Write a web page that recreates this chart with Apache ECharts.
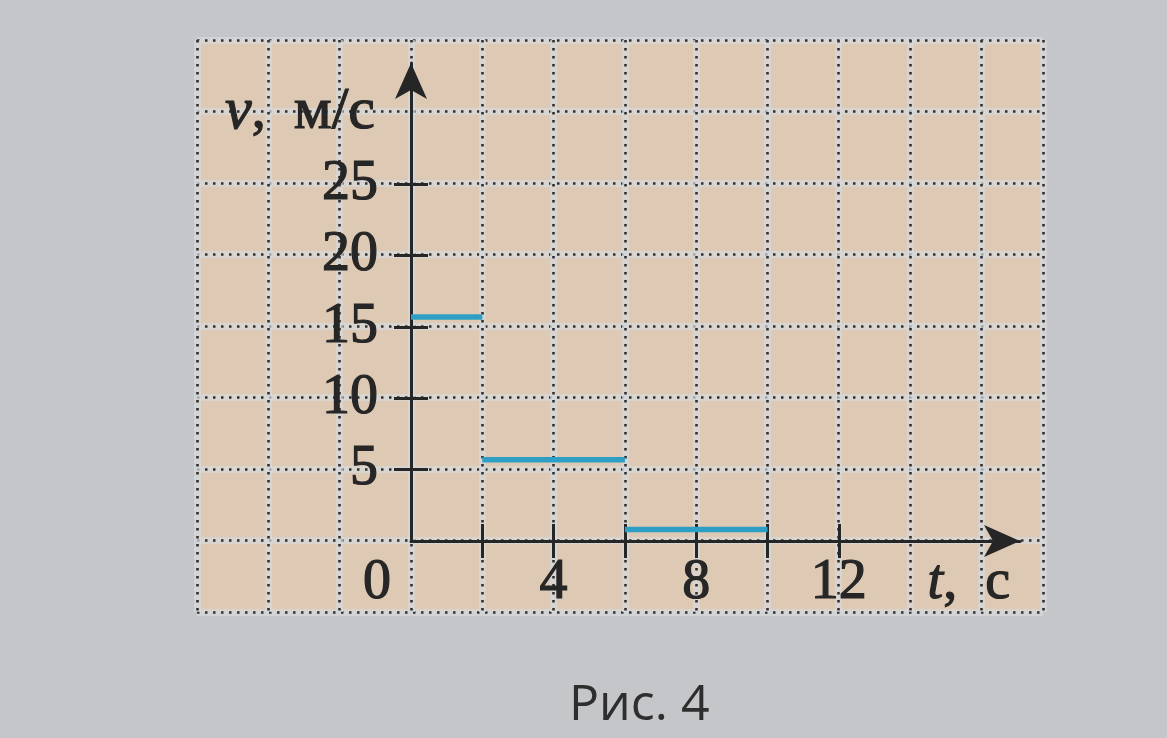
<!DOCTYPE html>
<html>
<head>
<meta charset="utf-8">
<script src="https://cdn.jsdelivr.net/npm/echarts@6/dist/echarts.min.js"></script>
<style>
html,body{margin:0;padding:0;background:#c5c6c9;}
#chart{width:1167px;height:738px;}
</style>
</head>
<body>
<div id="chart"></div>
<script>
// ---- data ----
const segStart = [0, 2, 6];          // t, s
const segEnd   = [2, 6, 10];         // t, s
const segV     = [15.7, 5.7, 0.8];   // v, m/s
const xTickValues  = [2, 4, 6, 8, 10, 12];
const xLabelValues = [0, 4, 8, 12];
const xLabelTexts  = ['0', '4', '8', '12'];
const yTickValues  = [5, 10, 15, 20, 25];
const yLabelValues = [5, 10, 15, 20, 25];
const yLabelTexts  = ['5', '10', '15', '20', '25'];
const xName = 't';
const xUnit = 'с';
const yName = 'v';
const yUnit = 'м/с';
const caption = 'Рис. 4';

// ---- style ----
const INK = '#262626';
const SERIF = '"Liberation Serif", "DejaVu Serif", serif';
const FS = 56;
const heavy = {textBorderColor: INK, textBorderWidth: 1.2};
const bandLine = {show: true, lineStyle: {color: 'rgba(214,216,220,0.7)', width: 7, type: 'solid'}};
const dotLine = {show: true, lineStyle: {color: '#332f2c', width: 2.6, type: [2.5, 5.5]}};
const hidden = {axisLine: {show: false, onZero: false}, axisTick: {show: false}, axisLabel: {show: false}};

const chart = echarts.init(document.getElementById('chart'), null, {renderer: 'canvas'});

const series = segV.map((v, i) => ({
  type: 'line',
  xAxisIndex: 2,
  yAxisIndex: 2,
  data: [[segStart[i], v], [segEnd[i], v]],
  showSymbol: false,
  symbol: 'none',
  lineStyle: {color: '#2e9fc4', width: 5.5, cap: 'butt'},
  z: 5,
  silent: true
}));

chart.setOption({
  backgroundColor: '#c5c6c9',
  animation: false,
  title: {
    text: caption,
    left: 564,
    top: 676,
    textStyle: {fontFamily: '"Open Sans", sans-serif', fontSize: 50, fontWeight: 'normal', color: '#2e2e2e'}
  },
  grid: [
    {left: 197, right: 124, top: 40, bottom: 126, show: true, backgroundColor: '#dec9b5', borderWidth: 0},
    {left: 411, right: 147, top: 63, bottom: 197, show: false}
  ],
  xAxis: [
    Object.assign({type: 'value', gridIndex: 0, min: -6, max: 17.73, interval: 2, position: 'bottom', splitLine: bandLine}, hidden),
    Object.assign({type: 'value', gridIndex: 0, min: -6, max: 17.73, interval: 2, position: 'top', splitLine: dotLine}, hidden),
    {
      type: 'value', gridIndex: 1, min: 0, max: 17.08, position: 'bottom',
      splitLine: {show: false},
      axisLine: {show: true, onZero: false, symbol: ['none', 'arrow'], symbolSize: [24, 36],
        lineStyle: {color: INK, width: 3}},
      axisTick: {show: true, customValues: xTickValues, length: 17, inside: false,
        lineStyle: {color: INK, width: 3}},
      axisLabel: Object.assign({
        show: true, customValues: xLabelValues, margin: 42, verticalAlign: 'middle',
        fontFamily: SERIF, fontSize: FS, color: INK,
        formatter: (val) => {
          const i = xLabelValues.indexOf(val);
          const s = i >= 0 ? xLabelTexts[i] : '';
          return val === 0 ? '{o|' + s + '}' : s;
        },
        rich: {o: Object.assign({fontFamily: SERIF, fontSize: FS, color: INK, padding: [0, 68, 0, 0]}, heavy)}
      }, heavy),
      name: '{i|' + xName + '},  ' + xUnit,
      nameLocation: 'end',
      nameGap: -10,
      nameTextStyle: Object.assign({
        fontFamily: SERIF, fontSize: FS, color: INK, align: 'right', verticalAlign: 'middle',
        padding: [84, 0, 0, 0],
        rich: {i: Object.assign({fontFamily: SERIF, fontSize: FS, fontStyle: 'italic', color: INK}, heavy)}
      }, heavy)
    },
    {
      type: 'value', gridIndex: 1, min: 0, max: 17.08, position: 'top',
      splitLine: {show: false},
      axisLine: {show: true, onZero: true, lineStyle: {opacity: 0, width: 0}},
      axisLabel: {show: false},
      axisTick: {show: true, customValues: xTickValues, length: 17, inside: false,
        lineStyle: {color: INK, width: 3}}
    }
  ],
  yAxis: [
    Object.assign({type: 'value', gridIndex: 0, min: -5, max: 35, interval: 5, position: 'left', splitLine: bandLine}, hidden),
    Object.assign({type: 'value', gridIndex: 0, min: -5, max: 35, interval: 5, position: 'right', splitLine: dotLine}, hidden),
    {
      type: 'value', gridIndex: 1, min: 0, max: 33.5, position: 'left',
      splitLine: {show: false},
      axisLine: {show: true, onZero: false, symbol: ['none', 'arrow'], symbolSize: [24, 36],
        lineStyle: {color: INK, width: 3}},
      axisTick: {show: true, customValues: yTickValues, length: 17, inside: false,
        lineStyle: {color: INK, width: 3}},
      axisLabel: Object.assign({
        show: true, customValues: yLabelValues, margin: 33,
        fontFamily: SERIF, fontSize: FS, color: INK,
        formatter: (val) => {
          const i = yLabelValues.indexOf(val);
          return i >= 0 ? yLabelTexts[i] : '';
        }
      }, heavy),
      name: '{i|' + yName + '},  {u|' + yUnit + '}',
      nameLocation: 'end',
      nameGap: -49,
      nameTextStyle: Object.assign({
        fontFamily: SERIF, fontSize: 56, color: INK, align: 'right', verticalAlign: 'middle',
        padding: [0, 36, 0, 0],
        rich: {
          i: Object.assign({fontFamily: SERIF, fontSize: 60, fontStyle: 'italic', color: INK}, heavy),
          u: Object.assign({fontFamily: SERIF, fontSize: 60, color: INK}, heavy)
        }
      }, heavy)
    },
    {
      type: 'value', gridIndex: 1, min: 0, max: 33.5, position: 'right',
      splitLine: {show: false},
      axisLine: {show: true, onZero: true, lineStyle: {opacity: 0, width: 0}},
      axisLabel: {show: false},
      axisTick: {show: true, customValues: yTickValues, length: 17, inside: false,
        lineStyle: {color: INK, width: 3}}
    }
  ],
  series: series
});
</script>
</body>
</html>
